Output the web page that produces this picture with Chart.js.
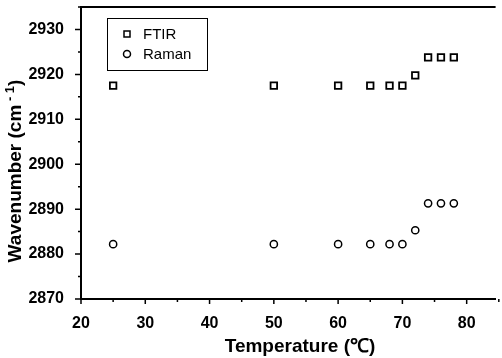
<!DOCTYPE html>
<html>
<head>
<meta charset="utf-8">
<title>Wavenumber vs Temperature</title>
<script src="https://cdn.jsdelivr.net/npm/chart.js@4/dist/chart.umd.min.js"></script>
<style>
    html, body { margin: 0; padding: 0; background: #fff; }
    #wrap { width: 502px; height: 358px; }
</style>
</head>
<body>
<div id="wrap"><canvas id="chartWave" width="502" height="358"></canvas></div>
<script>
"use strict";

// Data
const temps = [25, 50, 60, 65, 68, 70, 72, 74, 76, 78];
const ftirValues = [2917.5, 2917.5, 2917.5, 2917.5, 2917.5, 2917.5, 2919.8, 2923.8, 2923.8, 2923.8];
const ramanValues = [2882.2, 2882.2, 2882.2, 2882.2, 2882.2, 2882.2, 2885.3, 2891.3, 2891.3, 2891.3];
const seriesNames = ["FTIR", "Raman"];
const xTicks = [20, 30, 40, 50, 60, 70, 80];
const yTicks = [2870, 2880, 2890, 2900, 2910, 2920, 2930];

const FONT = "'Liberation Sans', Arial, Helvetica, sans-serif";

const toPoints = (ys) => temps.map((t, i) => ({ x: t, y: ys[i] }));

// ============================
// Frame, minor ticks, titles, legend
// ============================
const framePlugin = {
    id: "frame",
    afterDraw(chart) {
        const { ctx, chartArea: a, scales } = chart;
        const xs = scales.x;
        const ys = scales.y;
        ctx.save();
        ctx.strokeStyle = "#000";

        // top border
        ctx.lineWidth = 2;
        ctx.beginPath();
        ctx.moveTo(a.left, a.top);
        ctx.lineTo(a.right, a.top);
        ctx.stroke();

        // ticks (major 10, minor 5), pointing outward
        ctx.lineWidth = 1.5;
        ctx.beginPath();
        for (let v = 20; v <= 85; v += 5) {
            const px = xs.getPixelForValue(v);
            const len = v % 10 === 0 ? 5 : 3;
            ctx.moveTo(px, a.bottom);
            ctx.lineTo(px, a.bottom + len);
        }
        for (let v = 2870; v <= 2935; v += 5) {
            const py = ys.getPixelForValue(v);
            const len = v % 10 === 0 ? 6 : 3;
            ctx.moveTo(a.left, py);
            ctx.lineTo(a.left - len, py);
        }
        ctx.stroke();

        // axis titles
        ctx.fillStyle = "#000";
        ctx.font = "bold 19px " + FONT;
        ctx.textAlign = "center";
        ctx.textBaseline = "middle";
        ctx.fillText("Temperature (\u2103)", 300, 347);

        // y title with raised "- 1"
        ctx.save();
        ctx.translate(16, 171);
        ctx.rotate(-Math.PI / 2);
        ctx.textAlign = "left";
        const main = "Wavenumber (cm";
        const sup = " - 1";
        const close = ")";
        ctx.font = "bold 19px " + FONT;
        const wMain = ctx.measureText(main).width;
        const wClose = ctx.measureText(close).width;
        ctx.font = "bold 13px " + FONT;
        const wSup = ctx.measureText(sup).width;
        const x0 = -(wMain + wSup + wClose) / 2;
        ctx.font = "bold 19px " + FONT;
        ctx.fillText(main, x0, 0);
        ctx.fillText(close, x0 + wMain + wSup, 0);
        ctx.font = "bold 13px " + FONT;
        ctx.fillText(sup, x0 + wMain, -6);
        ctx.restore();

        // legend box
        ctx.lineWidth = 1;
        ctx.strokeRect(107.5, 18.5, 100, 52);
        ctx.font = "15px " + FONT;
        ctx.textAlign = "left";
        const rows = [
            { name: seriesNames[0], y: 34, style: "rect" },
            { name: seriesNames[1], y: 54, style: "circle" },
        ];
        rows.forEach((r) => {
            ctx.lineWidth = 1.5;
            ctx.beginPath();
            if (r.style === "rect") {
                ctx.rect(124, r.y - 3, 6, 6);
            } else {
                ctx.arc(127, r.y, 3.5, 0, Math.PI * 2);
            }
            ctx.stroke();
            ctx.fillText(r.name, 143, r.y + 1);
        });
        ctx.restore();
    },
};

// ============================
// Chart
// ============================
function initChart() {
    const canvas = document.getElementById("chartWave");
    if (!canvas || !window.Chart) return;

    new Chart(canvas, {
        type: "scatter",
        data: {
            datasets: [
                {
                    label: seriesNames[0],
                    data: toPoints(ftirValues),
                    pointStyle: "rect",
                    pointRadius: 4.6,
                    pointBorderWidth: 1.8,
                    pointBorderColor: "#000",
                    pointBackgroundColor: "#fff",
                },
                {
                    label: seriesNames[1],
                    data: toPoints(ramanValues),
                    pointStyle: "circle",
                    pointRadius: 3.6,
                    pointBorderWidth: 1.5,
                    pointBorderColor: "#000",
                    pointBackgroundColor: "#fff",
                },
            ],
        },
        options: {
            responsive: false,
            animation: false,
            layout: { padding: { left: 0, right: 1, top: 7, bottom: 0 } },
            plugins: {
                legend: { display: false },
                tooltip: { enabled: false },
            },
            scales: {
                x: {
                    type: "linear",
                    min: 20,
                    max: 84.5,
                    afterFit: (s) => {
                        s.height = 59;
                        s.paddingLeft = 0;
                        s.paddingRight = 0;
                    },
                    afterBuildTicks: (s) => { s.ticks = xTicks.map((v) => ({ value: v })); },
                    grid: { display: false },
                    border: { display: true, color: "#000", width: 2 },
                    ticks: {
                        color: "#000",
                        padding: 7,
                        maxRotation: 0,
                        font: { family: FONT, size: 16, weight: "bold" },
                    },
                },
                y: {
                    type: "linear",
                    min: 2870,
                    max: 2935,
                    afterFit: (s) => {
                        s.width = 81;
                        s.paddingTop = 0;
                        s.paddingBottom = 0;
                    },
                    afterBuildTicks: (s) => { s.ticks = yTicks.map((v) => ({ value: v })); },
                    grid: { display: false },
                    border: { display: true, color: "#000", width: 2 },
                    ticks: {
                        color: "#000",
                        padding: 9,
                        callback: (v) => String(v),
                        font: { family: FONT, size: 16, weight: "bold" },
                    },
                },
            },
        },
        plugins: [framePlugin],
    });
}

initChart();
</script>
</body>
</html>
